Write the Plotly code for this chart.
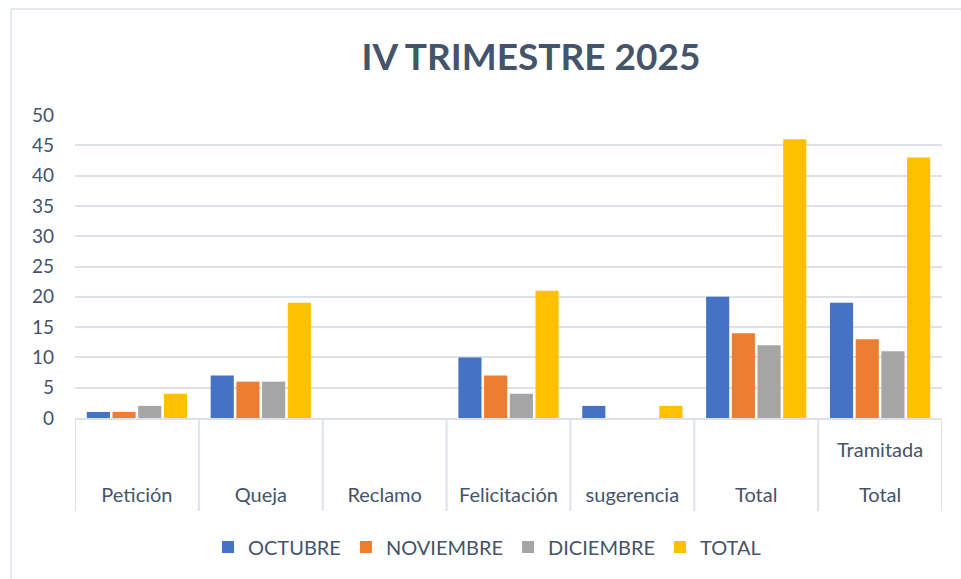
import plotly.graph_objects as go

categories = ["Petición", "Queja", "Reclamo", "Felicitación", "sugerencia", "Total", "Tramitada Total"]
octubre = [1, 7, 0, 10, 2, 20, 19]
noviembre = [1, 6, 0, 7, 0, 14, 13]
diciembre = [2, 6, 0, 4, 0, 12, 11]
total = [4, 19, 0, 21, 2, 46, 43]
series_names = ["OCTUBRE", "NOVIEMBRE", "DICIEMBRE", "TOTAL"]
y_ticks = [0, 5, 10, 15, 20, 25, 30, 35, 40, 45, 50]
title_text = "IV TRIMESTRE 2025"

colors = ["#4472C4", "#ED7D31", "#A5A5A5", "#FFC000"]
TEXT = "#44546A"
LINE = "#DDE2E8"
FONT = "Lato"

W, H = 961, 579
L, R, T, B = 75, 942, 115, 418


def px_x(px):
    return (px - L) / (R - L)


def px_y(py):
    return (B - py) / (B - T)


fig = go.Figure()
for name, vals, col in zip(series_names, [octubre, noviembre, diciembre, total], colors):
    fig.add_trace(go.Bar(x=categories, y=vals, name=name, marker=dict(color=col, line=dict(width=0))))

shapes = []
for i in range(len(categories) + 1):
    shapes.append(dict(type="line", xref="x", yref="paper", x0=i - 0.5, x1=i - 0.5,
                       y0=0, y1=px_y(511), line=dict(color=LINE, width=2)))
shapes.append(dict(type="line", xref="paper", yref="paper", x0=px_x(11), x1=px_x(965),
                   y0=px_y(9), y1=px_y(9), line=dict(color="#E3E8EF", width=2)))
shapes.append(dict(type="line", xref="paper", yref="paper", x0=px_x(11), x1=px_x(11),
                   y0=px_y(9), y1=px_y(585), line=dict(color="#E3E8EF", width=2)))

# multi-word categories: last word on the tick row, the rest as an upper row
annotations = []
ticktext = []
for i, c in enumerate(categories):
    parts = c.split(" ")
    ticktext.append(parts[-1])
    if len(parts) > 1:
        annotations.append(dict(text=" ".join(parts[:-1]), xref="x", yref="paper", x=i,
                                y=px_y(449), yanchor="middle", xanchor="center", showarrow=False,
                                font=dict(size=20, color=TEXT, family=FONT)))

fig.update_layout(
    width=W, height=H,
    margin=dict(l=L, r=W - R, t=T, b=H - B, pad=0),
    paper_bgcolor="white", plot_bgcolor="white",
    font=dict(family=FONT, color=TEXT, size=20),
    title=dict(text="<b>" + title_text + "</b>", x=531 / W, xanchor="center",
               y=1 - 57 / H, yanchor="middle", font=dict(size=37, color=TEXT, family=FONT)),
    barmode="group", bargap=0.17, bargroupgap=0.1,
    showlegend=True,
    legend=dict(orientation="h", x=px_x(487), xanchor="center", y=px_y(547), yanchor="middle",
                font=dict(size=20, color=TEXT, family=FONT), traceorder="normal"),
    shapes=shapes,
    annotations=annotations,
    xaxis=dict(type="category", categoryorder="array", categoryarray=categories,
               tickmode="array", tickvals=categories, ticktext=ticktext,
               showline=True, linecolor=LINE, linewidth=2, showgrid=False, ticks="",
               tickfont=dict(size=20, color=TEXT, family=FONT), ticklabelstandoff=58,
               range=[-0.5, len(categories) - 0.5]),
    yaxis=dict(range=[0, 50], tickvals=y_ticks, showgrid=True, gridcolor=LINE, gridwidth=2,
               zeroline=False, showline=False, ticks="", ticklabelstandoff=20,
               tickfont=dict(size=19, color=TEXT, family=FONT)),
)

fig.write_html("out.html", config={"displayModeBar": False},
               post_script="document.body.style.margin='0';document.body.style.padding='0';")
